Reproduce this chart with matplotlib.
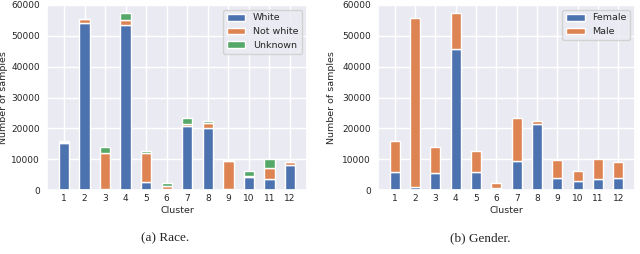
import matplotlib
matplotlib.use("Agg")
import matplotlib.pyplot as plt
import seaborn as sns
import numpy as np

clusters = list(range(1, 13))
race_white =    [15200, 54200,   300, 53400, 2500,  200, 20800, 20000,   200, 4100, 3600, 8100]
race_notwhite = [  400,  1200, 11600,  1600, 9400, 1100,   600,  1700,  9300,  300, 3400,  900]
race_unknown =  [  400,   200,  2200,  2400,  900,  900,  1900,   700,   200, 1900, 3000,  200]
gender_female = [ 5700,  1100,  5400, 45700, 5700,  800,  9500, 21300,  3800, 2900, 3500, 4000]
gender_male =   [10300, 54700,  8700, 11700, 7100, 1400, 13800,  1100,  5900, 3400, 6500, 5000]

sns.set_theme(style="darkgrid")
plt.rcParams['font.family'] = ['DejaVu Sans']

fig = plt.figure(figsize=(6.4, 2.54), dpi=100)
ax1 = fig.add_axes([47/640, 1-190/254, 260/640, 185/254])
ax2 = fig.add_axes([378/640, 1-190/254, 257/640, 185/254])

blue, orange, green = sns.color_palette("deep")[:3]
x = np.array(clusters)
w = 0.5
kw = dict(width=w, edgecolor='white', linewidth=1.0)

ax1.bar(x, race_white, color=blue, label='White', **kw)
ax1.bar(x, race_notwhite, bottom=race_white, color=orange, label='Not white', **kw)
b2 = np.array(race_white) + np.array(race_notwhite)
ax1.bar(x, race_unknown, bottom=b2, color=green, label='Unknown', **kw)

ax2.bar(x, gender_female, color=blue, label='Female', **kw)
ax2.bar(x, gender_male, bottom=gender_female, color=orange, label='Male', **kw)

fs = 6.8
tfs = 6.5
for ax, lx in ((ax1, (8 - 47) / 260), (ax2, (336 - 378) / 257)):
    ax.set_ylim(0, 60000)
    ax.set_xticks(x)
    ax.set_xticklabels([str(c) for c in clusters])
    ax.tick_params(axis='y', labelsize=tfs, size=0, pad=5)
    ax.tick_params(axis='x', labelsize=tfs, size=0, pad=3)
    ax.set_xlabel('Cluster', fontsize=fs, labelpad=2)
    ax.set_ylabel('Number of samples', fontsize=fs)
    ax.yaxis.set_label_coords(lx, 0.5)
    ax.legend(loc='upper right', fontsize=fs, frameon=True)

fig.text(165/640, 1-238/254, '(a) Race.', ha='center', va='center',
         family='Liberation Serif', fontsize=9.5)
fig.text(480/640, 1-238/254, '(b) Gender.', ha='center', va='center',
         family='Liberation Serif', fontsize=9.5)

fig.savefig('out.png', dpi=100, facecolor='white')
